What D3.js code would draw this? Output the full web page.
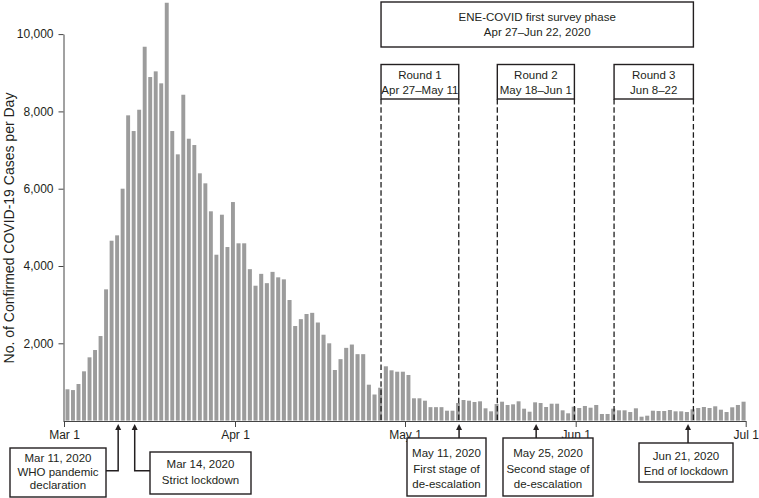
<!DOCTYPE html>
<html><head><meta charset="utf-8">
<script src="https://cdn.jsdelivr.net/npm/d3@7"></script>
<style>
body{margin:0;background:#fff}
svg text{font-family:"Liberation Sans",Arial,sans-serif;fill:#231f20}
</style>
</head><body>
<svg id="chart" width="759" height="498"></svg>
<script>
// ---------- DATA ----------
const firstDay = "2020-03-01";
const lastDayExclusive = "2020-07-01";
// Daily confirmed COVID-19 cases, Mar 1 – Jun 30, 2020
const cases = [
  810, 790, 947, 1275, 1637, 1826, 2188, 3396, 4654, 4793,
  6000, 7898, 7492, 8043, 9673, 8889, 9036, 8726, 10811, 7492,
  6889, 8431, 7293, 7130, 6398, 6139, 5415, 4292, 5327, 4491,
  5655, 4587, 4587, 3918, 3490, 3797, 3556, 3848, 3707, 3655,
  3120, 2447, 2625, 2758, 2788, 2538, 2222, 2000, 1309, 1590,
  1882, 1968, 1719, 1719, 929, 675, 851, 1405, 1301, 1265,
  1265, 1180, 577, 577, 515, 348, 348, 348, 256, 256,
  455, 533, 515, 481, 499, 318, 240, 429, 489, 404,
  421, 499, 308, 230, 473, 455, 352, 437, 437, 266,
  189, 360, 326, 378, 334, 404, 171, 171, 308, 266,
  266, 222, 318, 101, 127, 256, 248, 248, 274, 240,
  240, 222, 292, 326, 352, 326, 370, 282, 222, 344,
  404, 489
];
const monthTicks = ["2020-03-01", "2020-04-01", "2020-05-01", "2020-06-01", "2020-07-01"];
const monthLabels = ["Mar 1", "Apr 1", "May 1", "Jun 1", "Jul 1"];
const yTicks = [2000, 4000, 6000, 8000, 10000];
const yLabel = "No. of Confirmed COVID-19 Cases per Day";

const phaseDates = ["2020-04-27", "2020-06-22"];
const phaseText = ["ENE-COVID first survey phase", "Apr 27–Jun 22, 2020"];
const roundStarts = ["2020-04-27", "2020-05-18", "2020-06-08"];
const roundEnds = ["2020-05-11", "2020-06-01", "2020-06-22"];
const roundTitles = ["Round 1", "Round 2", "Round 3"];
const roundRanges = ["Apr 27–May 11", "May 18–Jun 1", "Jun 8–22"];

const eventDates = ["2020-03-11", "2020-03-14", "2020-05-11", "2020-05-25", "2020-06-21"];
const eventTexts = [
  ["Mar 11, 2020", "WHO pandemic", "declaration"],
  ["Mar 14, 2020", "Strict lockdown"],
  ["May 11, 2020", "First stage of", "de-escalation"],
  ["May 25, 2020", "Second stage of", "de-escalation"],
  ["Jun 21, 2020", "End of lockdown"]
];

// ---------- DRAW ----------
const parse = d3.utcParse("%Y-%m-%d");
const days = d3.utcDay.range(parse(firstDay), parse(lastDayExclusive));
const data = days.map((d, i) => ({date: d, value: cases[i]}));

const svg = d3.select("#chart");
const ink = "#231f20";

// months are equally spaced in the original figure -> piecewise time scale
const x = d3.scaleUtc()
  .domain(monthTicks.map(parse))
  .range([64, 235, 405, 575.7, 745.7]);
const y = d3.scaleLinear().domain([0, 10000]).range([420.6, 34.1]);

// bars
svg.append("g").selectAll("rect").data(data).join("rect")
  .attr("x", d => x(d.date) + 1.5)
  .attr("width", d => x(d3.utcDay.offset(d.date, 1)) - x(d.date) - 1.6)
  .attr("y", d => y(d.value))
  .attr("height", d => y(0) - y(d.value))
  .attr("fill", "#9c9c9c");

// axes
const xAxis = d3.axisBottom(x)
  .tickValues(monthTicks.map(parse))
  .tickFormat((d, i) => monthLabels[i])
  .tickSize(6).tickSizeOuter(0).tickPadding(3);
const gx = svg.append("g").attr("transform", "translate(0,421)").call(xAxis);
gx.select(".domain").attr("d", "M63.5,0.5H746").attr("stroke", "#444");
gx.selectAll(".tick line").attr("stroke", "#444");
gx.selectAll("text").attr("font-size", 12).attr("fill", ink);

const yAxis = d3.axisLeft(y).tickValues(yTicks).tickFormat(d3.format(","))
  .tickSize(5).tickSizeOuter(0).tickPadding(5);
const gy = svg.append("g").attr("transform", "translate(63.5,0)").call(yAxis);
gy.select(".domain").attr("stroke", "#444");
gy.selectAll(".tick line").attr("stroke", "#444");
gy.selectAll("text").attr("font-size", 12).attr("fill", ink);

svg.append("text")
  .attr("transform", "translate(14,228) rotate(-90)")
  .attr("text-anchor", "middle")
  .attr("font-size", 14)
  .text(yLabel);

// helper
function box(x0, y0, x1, y1, lines, lineYs, size) {
  svg.append("rect").attr("x", x0).attr("y", y0)
    .attr("width", x1 - x0).attr("height", y1 - y0)
    .attr("fill", "#fff").attr("stroke", ink).attr("stroke-width", 1.4);
  lines.forEach((t, i) => {
    svg.append("text").attr("x", (x0 + x1) / 2).attr("y", lineYs[i])
      .attr("dy", "0.35em").attr("text-anchor", "middle")
      .attr("font-size", size).text(t);
  });
}
const lx = d => x(parse(d)) - 1.3;

// dashed round lines
const dashG = svg.append("g");
roundStarts.concat(roundEnds).forEach(d => {
  dashG.append("line").attr("x1", lx(d)).attr("x2", lx(d))
    .attr("y1", 99).attr("y2", 421)
    .attr("stroke", "#1e1e1e").attr("stroke-width", 1.3)
    .attr("stroke-dasharray", "5.5,2.8");
});

// phase box
box(lx(phaseDates[0]), 2, lx(phaseDates[1]), 47, phaseText, [16.7, 32.3], 11.5);
// round boxes
roundStarts.forEach((d, i) => {
  box(lx(d), 64.5, lx(roundEnds[i]), 99, [roundTitles[i], roundRanges[i]], [74.5, 89.5], 11.5);
});

// event annotations (layout per event)
const evLayout = [
  {bx: [10, 448, 106, 497], ys: [458.3, 471.7, 485], join: "right", jy: 470.7},
  {bx: [150, 452, 251, 494], ys: [463.5, 480], join: "left", jy: 470.7},
  {bx: [407, 438, 486, 496], ys: [452.5, 468.5, 484], join: "top"},
  {bx: [503, 438, 593, 496], ys: [452.5, 468.5, 484], join: "top"},
  {bx: [639, 443, 733, 482], ys: [455.5, 470.5], join: "top"}
];
const tipY = 424;
eventDates.forEach((d, i) => {
  const L = evLayout[i];
  const ax = x(parse(d)) - 1;
  let path;
  if (L.join === "right") path = `M${L.bx[2]},${L.jy}H${ax}V${tipY + 5}`;
  else if (L.join === "left") path = `M${L.bx[0]},${L.jy}H${ax}V${tipY + 5}`;
  else path = `M${ax},${L.bx[1]}V${tipY + 5}`;
  svg.append("path").attr("d", path).attr("fill", "none")
    .attr("stroke", ink).attr("stroke-width", 1.5);
  svg.append("path")
    .attr("d", `M${ax},${tipY}L${ax - 3},${tipY + 6}L${ax + 3},${tipY + 6}Z`)
    .attr("fill", ink);
  box(L.bx[0], L.bx[1], L.bx[2], L.bx[3], eventTexts[i], L.ys, 11.5);
});
</script>
</body></html>
